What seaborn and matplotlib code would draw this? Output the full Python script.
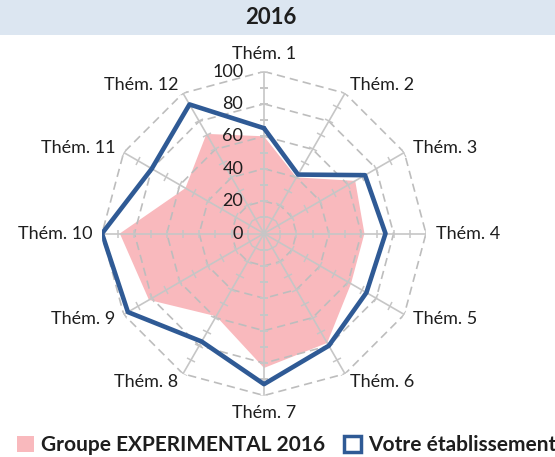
import numpy as np
import pandas as pd
import matplotlib
matplotlib.use("Agg")
import matplotlib.pyplot as plt
import seaborn as sns
from matplotlib.patches import Patch, Rectangle
from matplotlib.markers import MarkerStyle
from matplotlib.transforms import Affine2D

# ---------------- data ----------------
categories = ["Thém. 1", "Thém. 2", "Thém. 3", "Thém. 4", "Thém. 5", "Thém. 6",
              "Thém. 7", "Thém. 8", "Thém. 9", "Thém. 10", "Thém. 11", "Thém. 12"]
groupe_experimental = [60, 40, 65, 62, 62, 78, 83, 59, 82, 89, 56, 71]
votre_etablissement = [65, 42, 72, 75, 73, 80, 93, 77, 97, 100, 80, 92]
radial_ticks = [0, 20, 40, 60, 80, 100]
title = "2016"
series_names = ["Groupe EXPERIMENTAL 2016", "Votre établissement"]

# ---------------- style ----------------
sns.set_style("white")
plt.rcParams["font.family"] = ["Lato", "DejaVu Sans"]

PINK = "#F9B9BD"
BLUE = "#2F5A95"
GRID = "#BDBDBD"
SPOKE = "#C6C6C6"
TXT = "#1E1E1E"

W, H = 555, 457
fig = plt.figure(figsize=(W / 100, H / 100), dpi=100)
fig.patch.set_facecolor("white")

# title band
fig.patches.append(Rectangle((0, 1 - 35 / H), 1, 35 / H, transform=fig.transFigure,
                             facecolor="#DCE6F1", edgecolor="none", zorder=0))
fig.text(270.5 / W, 1 - 17.5 / H, title, ha="center", va="center",
         fontsize=16, fontweight="bold", color=TXT)

# polar axes: centre (264, 233.5) px, radius 162 px
cx, cy, R = 264, 233.5, 162
ax = fig.add_axes([(cx - R) / W, (H - cy - R) / H, 2 * R / W, 2 * R / H], polar=True)
ax.set_theta_zero_location("N")
ax.set_theta_direction(-1)
ax.set_ylim(0, 100)
ax.grid(False)
ax.spines["polar"].set_visible(False)
ax.set_xticks([])
ax.set_yticks([])
ax.patch.set_alpha(0)

n = len(categories)
theta = np.arange(n) * 2 * np.pi / n
theta_c = np.append(theta, theta[0] + 2 * np.pi)
pink_c = np.append(groupe_experimental, groupe_experimental[0])
blue_c = np.append(votre_etablissement, votre_etablissement[0])

# pink area (below grid)
ax.fill(theta_c, pink_c, color=PINK, lw=0, zorder=1)

# polygon grid rings
for lvl in radial_ticks[1:]:
    ax.plot(theta_c, [lvl] * len(theta_c), ls=(0, (5, 3)), color=GRID, lw=1.2, zorder=2)

# spokes with small tick marks
minor = np.arange(10, 101, 10)
for a in theta:
    ax.plot([a, a], [0, 100], color=SPOKE, lw=1.2, zorder=2)
    mk = MarkerStyle("_", transform=Affine2D().rotate_deg(-np.degrees(a)))
    ax.plot([a] * len(minor), minor, ls="none", marker=mk, ms=6, mew=1.1,
            color=SPOKE, zorder=2)

# blue line via seaborn
df = pd.DataFrame({"theta": theta_c, "value": blue_c})
sns.lineplot(data=df, x="theta", y="value", sort=False, estimator=None, ax=ax,
             color=BLUE, lw=3.3, zorder=4)
ax.set_xlabel("")
ax.set_ylabel("")
ax.set_ylim(0, 100)

# radial tick labels
for v in radial_ticks:
    ax.annotate(str(v), xy=(0, v), xytext=(-15, 0), textcoords="offset points",
                ha="right", va="center", fontsize=13, color=TXT, zorder=5)

# category labels
gap = 7.0
for a, lab in zip(theta, categories):
    s, c = np.sin(a), np.cos(a)
    if abs(s) < 0.01:
        ha = "center"
        va = "bottom" if c > 0 else "top"
    else:
        ha = "left" if s > 0 else "right"
        va = "center"
    ax.annotate(lab, xy=(a, 100), xytext=(gap * s, gap * c), textcoords="offset points",
                ha=ha, va=va, fontsize=13, color=TXT, annotation_clip=False)

# legend
handles = [Patch(facecolor=PINK, edgecolor="none"),
           Patch(facecolor="white", edgecolor=BLUE, lw=2.5)]
fig.legend(handles, series_names, loc="center", bbox_to_anchor=(287 / W, 1 - 445 / H),
           ncol=2, frameon=False, prop=dict(weight="bold", size=15),
           handlelength=0.8, handleheight=0.8, handletextpad=0.35, columnspacing=0.9,
           borderaxespad=0, borderpad=0)
for t in fig.legends[0].get_texts():
    t.set_color(TXT)

fig.savefig("out.png", dpi=100)
